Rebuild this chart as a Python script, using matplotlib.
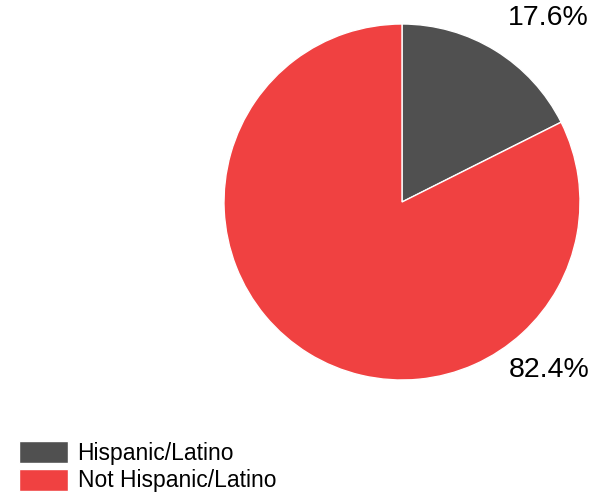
import matplotlib.pyplot as plt

# Ethnicity split
labels = ['Hispanic/Latino', 'Not Hispanic/Latino']
shares = [17.6, 82.4]
colors = ['#505050', '#f04141']

plt.rcParams['font.family'] = ['Liberation Sans', 'DejaVu Sans']

fig = plt.figure(figsize=(5.98, 4.97), dpi=100)
ax = fig.add_axes([0, 0, 1, 1])
ax.set_xlim(0, 598)
ax.set_ylim(0, 497)
ax.set_aspect('equal')
ax.axis('off')

wedges, _ = ax.pie(shares, colors=colors, startangle=90, counterclock=False,
                   center=(402, 295), radius=178,
                   wedgeprops=dict(edgecolor='white', linewidth=1))
ax.set_xlim(0, 598)
ax.set_ylim(0, 497)

# percentage labels
ax.text(589, 479, f'{shares[0]:.1f}%', fontsize=20.5, ha='right', va='center')
ax.text(590, 127, f'{shares[1]:.1f}%', fontsize=20.5, ha='right', va='center')

ax.legend(wedges, labels, loc='upper left', bbox_to_anchor=(0.032, 0.112),
          frameon=False, borderaxespad=0, borderpad=0, fontsize=16.5,
          handlelength=2.15, handleheight=1.1, handletextpad=0.4,
          labelspacing=0.15)

plt.savefig('out.png', dpi=100)
